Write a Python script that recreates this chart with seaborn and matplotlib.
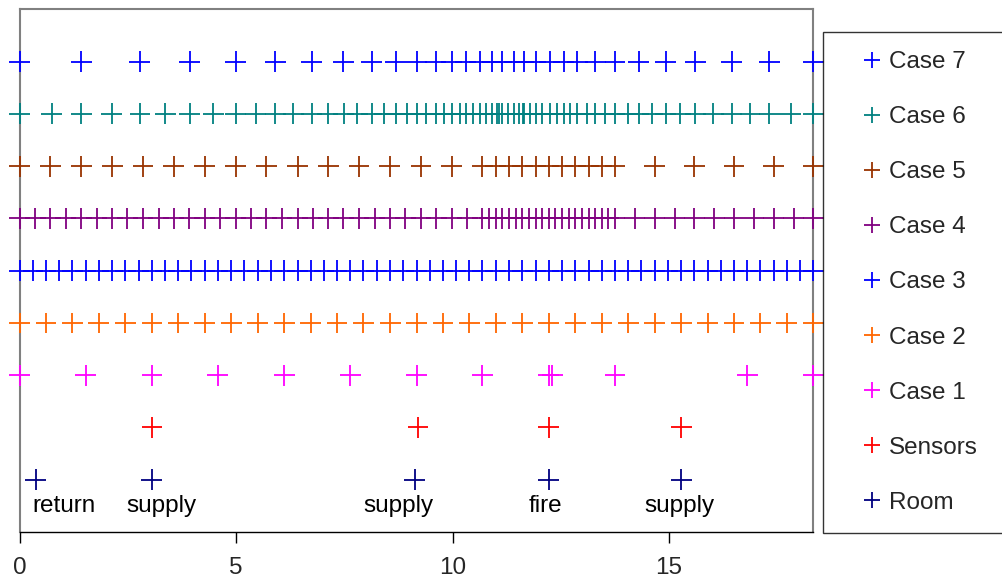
import matplotlib
matplotlib.use('Agg')
import matplotlib.pyplot as plt
from matplotlib.lines import Line2D
import numpy as np
import pandas as pd
import seaborn as sns

# event times (x axis, 0 .. 18.33)
room = [0.37, 3.05, 9.13, 12.22, 15.28]
sensors = [3.06, 9.20, 12.22, 15.28]
case1 = [0.0, 1.53, 3.06, 4.58, 6.11, 7.64, 9.17, 10.69, 12.22, 12.30,
         13.75, 16.81, 18.33]
case2 = [0.0, 0.61, 1.22, 1.83, 2.44, 3.06, 3.67, 4.28, 4.89, 5.50, 6.11,
         6.72, 7.33, 7.94, 8.56, 9.17, 9.78, 10.39, 11.00, 11.61, 12.22,
         12.83, 13.44, 14.06, 14.67, 15.28, 15.89, 16.50, 17.11, 17.72, 18.33]
case3 = [0.0, 0.31, 0.61, 0.92, 1.22, 1.53, 1.83, 2.14, 2.44, 2.75, 3.06,
         3.36, 3.67, 3.97, 4.28, 4.58, 4.89, 5.19, 5.50, 5.81, 6.11, 6.42,
         6.72, 7.03, 7.33, 7.64, 7.94, 8.25, 8.56, 8.86, 9.17, 9.47, 9.78,
         10.08, 10.39, 10.69, 11.00, 11.31, 11.61, 11.92, 12.22, 12.53,
         12.83, 13.14, 13.44, 13.75, 14.06, 14.36, 14.67, 14.97, 15.28,
         15.58, 15.89, 16.19, 16.50, 16.81, 17.11, 17.42, 17.72, 18.03, 18.33]
case4 = [0.0, 0.36, 0.71, 1.07, 1.43, 1.78, 2.14, 2.49, 2.85, 3.21, 3.56,
         3.92, 4.28, 4.63, 4.99, 5.35, 5.70, 6.06, 6.42, 6.77, 7.13, 7.48,
         7.84, 8.20, 8.55, 8.91, 9.27, 9.62, 9.98, 10.34, 10.69, 10.85,
         11.00, 11.15, 11.31, 11.46, 11.61, 11.76, 11.92, 12.07, 12.22,
         12.37, 12.53, 12.68, 12.83, 12.99, 13.14, 13.29, 13.44, 13.60,
         13.75, 14.21, 14.67, 15.13, 15.58, 16.04, 16.50, 16.96, 17.42,
         17.88, 18.33]
case5 = [0.0, 0.71, 1.43, 2.14, 2.85, 3.56, 4.28, 4.99, 5.70, 6.42, 7.13,
         7.84, 8.55, 9.27, 9.98, 10.69, 11.00, 11.31, 11.61, 11.92, 12.22,
         12.53, 12.83, 13.14, 13.44, 13.75, 14.67, 15.58, 16.50, 17.42, 18.33]
case6 = [0.0, 0.74, 1.43, 2.13, 2.78, 3.37, 3.93, 4.47, 4.99, 5.45, 5.91,
         6.32, 6.75, 7.12, 7.49, 7.80, 8.13, 8.42, 8.69, 8.94, 9.17, 9.38,
         9.61, 9.80, 9.98, 10.17, 10.30, 10.48, 10.63, 10.77, 10.92, 11.03,
         11.08, 11.13, 11.29, 11.42, 11.54, 11.62, 11.65, 11.79, 11.92,
         12.07, 12.24, 12.40, 12.57, 12.71, 12.88, 13.10, 13.30, 13.53,
         13.75, 14.04, 14.30, 14.61, 14.92, 15.26, 15.60, 16.02, 16.45,
         16.87, 17.31, 17.81, 18.33]
case7 = [0.0, 1.43, 2.77, 3.93, 4.99, 5.91, 6.75, 7.48, 8.13, 8.69, 9.17,
         9.61, 9.98, 10.30, 10.63, 10.92, 11.13, 11.42, 11.65, 11.92, 12.24,
         12.57, 12.88, 13.30, 13.75, 14.30, 14.92, 15.60, 16.45, 17.31, 18.33]

series_names = ['Room', 'Sensors', 'Case 1', 'Case 2', 'Case 3', 'Case 4',
                'Case 5', 'Case 6', 'Case 7']
series_values = [room, sensors, case1, case2, case3, case4, case5, case6,
                 case7]
colors = ['#000080', '#FF0000', '#FF00FF', '#FF6600', '#0000FF', '#800080',
          '#993300', '#008080', '#0000FF']

event_labels = ['return', 'supply', 'supply', 'fire', 'supply']
event_label_x = [0.29, 2.46, 7.95, 11.76, 14.42]

x_ticks = [0, 5, 10, 15]

rows = []
for level, (name, vals) in enumerate(zip(series_names, series_values), 1):
    for v in vals:
        rows.append({'time': v, 'level': level, 'series': name})
df = pd.DataFrame(rows)

sns.set_style('white')
plt.rcParams['font.family'] = ['Liberation Sans', 'DejaVu Sans']

fig = plt.figure(figsize=(10.03, 5.84), dpi=100)
ax = fig.add_axes([0.0195, 0.089, 0.7915, 0.895])

palette = dict(zip(series_names, colors))
sns.scatterplot(data=df, x='time', y='level', hue='series', palette=palette,
                marker='+', s=15 ** 2, linewidth=1.3, legend=False,
                clip_on=False, ax=ax, zorder=3)

for lab, lx in zip(event_labels, event_label_x):
    ax.text(lx, 0.5, lab, ha='left', va='center', fontsize=17.5,
            color='black')

ax.set_xlim(0, 18.333)
ax.set_ylim(0, 10)
ax.set_xticks(x_ticks)
ax.set_yticks([])
ax.set_xlabel('')
ax.set_ylabel('')
ax.tick_params(axis='x', direction='out', length=8, width=1, color='black',
               labelsize=17.5, pad=10, bottom=True)
for side in ['left', 'top', 'right']:
    ax.spines[side].set_color('#808080')
    ax.spines[side].set_linewidth(1.5)
ax.spines['bottom'].set_color('black')
ax.spines['bottom'].set_linewidth(1)

handles = [Line2D([], [], marker='+', linestyle='none', color=c,
                  markersize=11, markeredgewidth=1.3)
           for c in colors]
leg = fig.legend(handles[::-1], series_names[::-1], loc='upper left',
                 bbox_to_anchor=(0.8205, 0.1045, 0.19, 0.8412),
                 mode='expand', fontsize=17.5, frameon=True, fancybox=False,
                 edgecolor='black', borderpad=0.8, labelspacing=1.36,
                 handlelength=2.47, handletextpad=-0.54, borderaxespad=0)
leg.get_frame().set_linewidth(1)

plt.savefig('out.png', dpi=100)
